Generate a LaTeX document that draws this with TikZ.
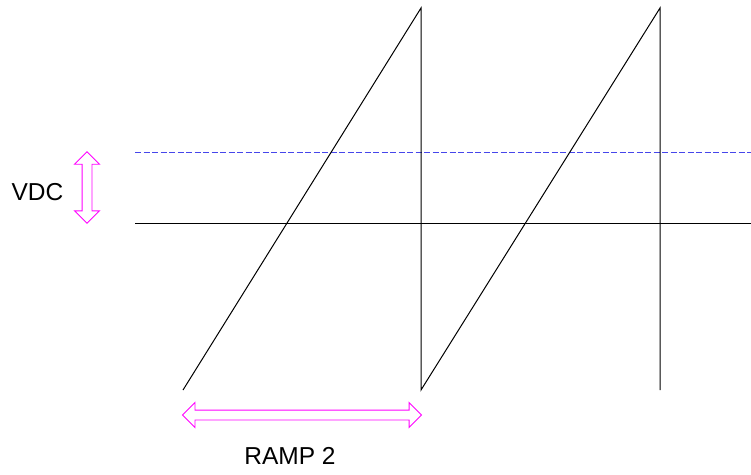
\documentclass[tikz,border=0pt]{standalone}
\usepackage{fontspec}
\setmainfont{Liberation Sans}
\usepackage{tikz}
\usetikzlibrary{positioning, shapes.arrows}

\definecolor{levelblue}{RGB}{70,70,235}
\definecolor{spanpink}{RGB}{255,0,255}

\begin{document}
\begin{tikzpicture}[
  x=1pt, y=-1pt,
  font=\fontsize{24.5}{29}\selectfont,
  wave/.style   ={draw=black, line width=1pt},
  axis/.style   ={draw=black, line width=1pt},
  level/.style  ={draw=levelblue, line width=1pt, dash pattern=on 6pt off 2.5pt},
  span/.style   ={double arrow, draw=spanpink, line width=0.9pt,
                  inner xsep=0pt, inner ysep=4.5pt,
                  minimum width=24pt, double arrow head extend=7.5pt},
  lbl/.style    ={inner sep=0pt}
]
\useasboundingbox (0,0) rectangle (751,474);

% ---------- sawtooth corners ----------
\coordinate (s0) at (183,390);
\coordinate (p1) at (421,8);
\coordinate (b1) at (421,390);
\coordinate (p2) at (660,8);
\coordinate (b2) at (660,390);

% ---------- reference lines ----------
\coordinate (vL) at (135,152);
\coordinate (vR) at (751,152);
\coordinate (zL) at (135,223);
\coordinate (zR) at (751,223);

\draw[axis]  (zL) -- (zR);
\draw[level] (vL) -- (vR);
\draw[wave]  (s0) -- (p1) -- (b1) -- (p2) -- (b2);

% ---------- span markers ----------
\node[span, rotate=90, minimum height=71.5pt] (vdcarr) at (87,187.5) {};
\node[span, minimum height=239pt] (ramparr) at (302,415) {};

% ---------- labels ----------
\node[lbl] (vdc)  at (37.5,192.5) {VDC};
\node[lbl] (ramp) at (290,456)   {RAMP 2};

\end{tikzpicture}
\end{document}
